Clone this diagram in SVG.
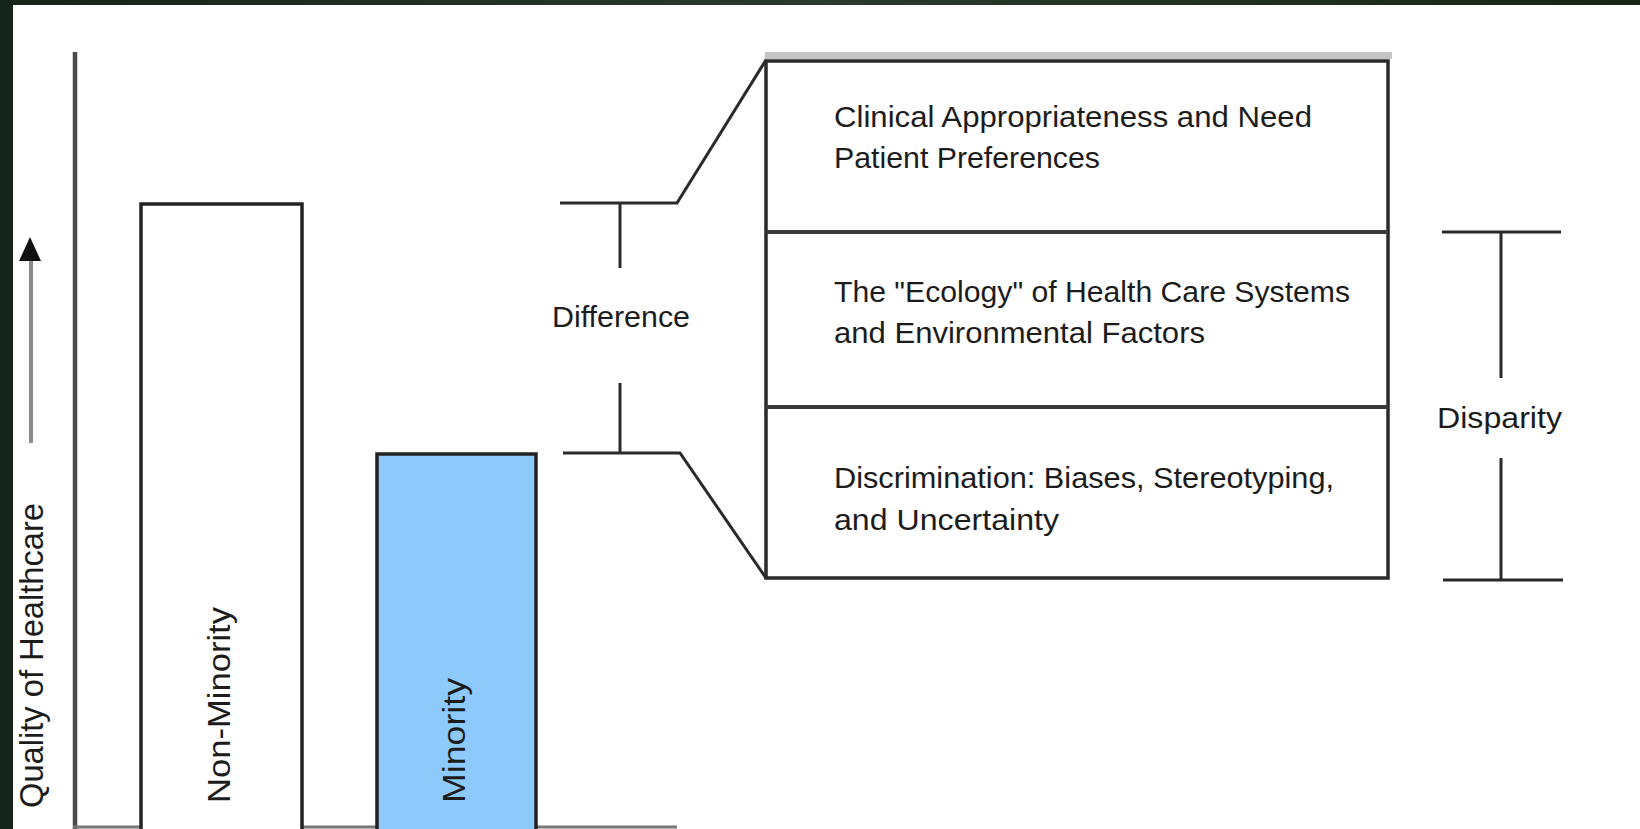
<svg xmlns="http://www.w3.org/2000/svg" width="1640" height="829" viewBox="0 0 1640 829">
  <defs>
    <linearGradient id="frame" x1="0" y1="0" x2="1" y2="0">
      <stop offset="0" stop-color="#14241a"/>
      <stop offset="0.5" stop-color="#2a3a2c"/>
      <stop offset="1" stop-color="#162616"/>
    </linearGradient>
    <marker id="arrowHead" viewBox="0 0 22 22" refX="11" refY="2" markerWidth="22" markerHeight="22" markerUnits="userSpaceOnUse" orient="auto-start-reverse">
      <path d="M0,22 L11,0 L22,22 Z" fill="#111"/>
    </marker>
  </defs>
  <style>
    .lbl { font-family: "Liberation Sans", Arial, sans-serif; font-size: 30px; fill: #1c1c1c; }
    .vlbl { font-family: "Liberation Sans", Arial, sans-serif; font-size: 32px; fill: #1c1c1c; }
    .ln { stroke: #2a2a2a; stroke-width: 3; fill: none; stroke-linecap: butt; stroke-linejoin: miter; }
    .bar { stroke: #222; stroke-width: 3.5; }
  </style>

  <!-- background frame -->
  <rect x="0" y="0" width="1640" height="829" fill="url(#frame)"/>
  <rect x="13" y="5" width="1627" height="824" fill="#ffffff"/>

  <!-- axes -->
  <g id="axes">
    <line x1="75" y1="52" x2="75" y2="829" stroke="#4a4a4a" stroke-width="4.5"/>
    <line x1="73" y1="827" x2="677" y2="827" stroke="#777" stroke-width="3"/>
    <line x1="31" y1="443" x2="31" y2="258" stroke="#8a8a8a" stroke-width="4"/>
    <path d="M19,261 L30,237 L41,261 Z" fill="#111"/>
    <text class="vlbl" transform="translate(43,808) rotate(-90)" textLength="305" lengthAdjust="spacingAndGlyphs" style="font-size:34px">Quality of Healthcare</text>
  </g>

  <!-- bars -->
  <g id="bar-nonminority">
    <rect class="bar" x="141" y="204" width="161" height="640" fill="#ffffff"/>
    <text class="vlbl" transform="translate(230,803) rotate(-90)" textLength="196" lengthAdjust="spacingAndGlyphs">Non-Minority</text>
  </g>
  <g id="bar-minority">
    <rect class="bar" x="377" y="454" width="159" height="390" fill="#8dc9fb"/>
    <text class="vlbl" transform="translate(465,803) rotate(-90)" textLength="125" lengthAdjust="spacingAndGlyphs">Minority</text>
  </g>

  <!-- factor box -->
  <g id="factor-box">
    <rect x="765" y="52" width="627" height="7" fill="#c4c4c4"/>
    <rect x="766" y="61" width="622" height="517" fill="#ffffff" stroke="#2a2a2a" stroke-width="3.5"/>
    <line x1="766" y1="232" x2="1388" y2="232" stroke="#3a3a3a" stroke-width="4"/>
    <line x1="766" y1="407" x2="1388" y2="407" stroke="#3a3a3a" stroke-width="4"/>
  </g>
  <g id="factor-clinical">
    <text class="lbl" x="834" y="127" textLength="478" lengthAdjust="spacingAndGlyphs">Clinical Appropriateness and Need</text>
    <text class="lbl" x="834" y="168" textLength="266" lengthAdjust="spacingAndGlyphs">Patient Preferences</text>
  </g>
  <g id="factor-ecology">
    <text class="lbl" x="834" y="302" textLength="516" lengthAdjust="spacingAndGlyphs">The "Ecology" of Health Care Systems</text>
    <text class="lbl" x="834" y="343" textLength="371" lengthAdjust="spacingAndGlyphs">and Environmental Factors</text>
  </g>
  <g id="factor-discrimination">
    <text class="lbl" x="834" y="488" textLength="500" lengthAdjust="spacingAndGlyphs">Discrimination: Biases, Stereotyping,</text>
    <text class="lbl" x="834" y="530" textLength="225" lengthAdjust="spacingAndGlyphs">and Uncertainty</text>
  </g>

  <!-- labels -->
  <g id="difference-label">
    <text class="lbl" x="552" y="327" textLength="138" lengthAdjust="spacingAndGlyphs">Difference</text>
  </g>
  <g id="disparity-label">
    <text class="lbl" x="1437" y="428" textLength="125" lengthAdjust="spacingAndGlyphs">Disparity</text>
  </g>

  <!-- connectors -->
  <g id="connectors">
    <polyline class="ln" points="560,203 677,203 766,60"/>
    <line class="ln" x1="620" y1="203" x2="620" y2="268"/>
    <polyline class="ln" points="563,453 680,453 766,578"/>
    <line class="ln" x1="620" y1="383" x2="620" y2="453"/>
    <line class="ln" x1="1442" y1="232" x2="1561" y2="232" stroke="#3a3a3a"/>
    <line class="ln" x1="1501" y1="232" x2="1501" y2="378" stroke="#3a3a3a"/>
    <line class="ln" x1="1501" y1="458" x2="1501" y2="580" stroke="#3a3a3a"/>
    <line class="ln" x1="1443" y1="580" x2="1563" y2="580" stroke="#3a3a3a"/>
  </g>
</svg>
